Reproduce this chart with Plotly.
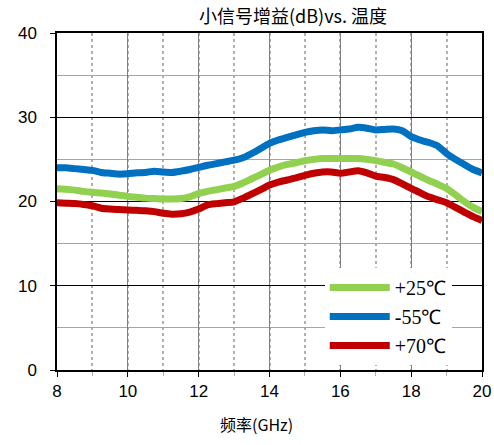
import plotly.graph_objects as go

freq_ghz = [8.0 + 0.25 * i for i in range(49)]

gain_m55 = [24.0, 24.0, 23.9, 23.8, 23.7, 23.45, 23.35, 23.25, 23.3, 23.4, 23.45, 23.6,
            23.5, 23.45, 23.6, 23.8, 24.05, 24.3, 24.5, 24.7, 24.9, 25.2, 25.7, 26.3,
            26.9, 27.3, 27.6, 27.9, 28.2, 28.4, 28.5, 28.4, 28.5, 28.6, 28.8, 28.7,
            28.5, 28.55, 28.6, 28.4, 27.7, 27.3, 27.0, 26.6, 25.7, 25.0, 24.4, 23.8, 23.4]

gain_p25 = [21.5, 21.45, 21.35, 21.2, 21.1, 21.0, 20.9, 20.75, 20.6, 20.5, 20.4, 20.35,
            20.3, 20.3, 20.35, 20.55, 20.95, 21.2, 21.4, 21.6, 21.8, 22.2, 22.7, 23.2,
            23.7, 24.1, 24.4, 24.6, 24.85, 25.0, 25.1, 25.1, 25.1, 25.1, 25.1, 25.0,
            24.85, 24.65, 24.45, 24.0, 23.5, 23.0, 22.5, 22.05, 21.55, 20.8, 20.0, 19.3, 18.8]

gain_p70 = [19.85, 19.8, 19.75, 19.65, 19.5, 19.2, 19.1, 19.05, 19.0, 18.95, 18.9, 18.8,
            18.6, 18.5, 18.55, 18.75, 19.1, 19.6, 19.75, 19.85, 19.95, 20.4, 20.9, 21.4,
            21.95, 22.3, 22.55, 22.8, 23.1, 23.35, 23.5, 23.5, 23.35, 23.5, 23.65, 23.4,
            23.0, 22.85, 22.6, 22.1, 21.55, 21.05, 20.55, 20.2, 19.85, 19.3, 18.75, 18.2, 17.75]

series_names = ["+25℃", "-55℃", "+70℃"]
series_colors = ["#92D050", "#0070C0", "#C00000"]
series_values = [gain_p25, gain_m55, gain_p70]

x_ticks = [8, 10, 12, 14, 16, 18, 20]
y_ticks = [0, 10, 20, 30, 40]

title_text = "小信号增益(dB)vs. 温度"
x_title = "频率(GHz)"

fig = go.Figure()
for name, color, vals in zip(series_names, series_colors, series_values):
    fig.add_trace(go.Scatter(
        x=freq_ghz, y=vals, mode="lines", name=name,
        line=dict(color=color, width=7, shape="spline", smoothing=0.6),
    ))

fig.update_layout(
    width=494, height=445,
    margin=dict(l=57, r=12, t=33, b=75, autoexpand=False),
    paper_bgcolor="white", plot_bgcolor="white",
    font=dict(family="Liberation Sans, Arial, sans-serif", size=17, color="black"),
    showlegend=True,
    legend=dict(
        x=0.63, y=0.015, xanchor="left", yanchor="bottom",
        bgcolor="white", borderwidth=0,
        font=dict(family="Liberation Serif, Times New Roman, serif", size=20, color="black"),
        itemwidth=60, tracegroupgap=4,
    ),
    annotations=[
        dict(text=title_text, xref="paper", yref="paper", x=0.555, y=1.0,
             xanchor="center", yanchor="bottom", yshift=3, showarrow=False,
             font=dict(family="Noto Sans CJK SC, sans-serif", size=18, color="black")),
        dict(text=x_title, xref="paper", yref="paper", x=0.47, y=0, yshift=-40,
             xanchor="center", yanchor="top", showarrow=False,
             font=dict(family="Noto Sans CJK SC, sans-serif", size=16, color="black")),
    ],
)

fig.update_xaxes(
    range=[8, 20], tickvals=x_ticks, ticktext=[str(v) for v in x_ticks],
    showline=True, linecolor="black", linewidth=1.5, mirror=True,
    showgrid=True, gridcolor="#7f7f7f", gridwidth=1,
    ticks="outside", ticklen=5, tickcolor="black",
    minor=dict(dtick=1, showgrid=True, griddash="dot", gridcolor="#b0b0b0", gridwidth=1.5,
               ticks="outside", ticklen=4, tickcolor="#b0b0b0"),
    zeroline=False, fixedrange=True, automargin=False,
)
fig.update_yaxes(
    range=[0, 40], tickvals=y_ticks, ticktext=[str(v) for v in y_ticks],
    showline=True, linecolor="black", linewidth=1.5, mirror=True,
    showgrid=True, gridcolor="#000000", gridwidth=1,
    ticks="outside", ticklen=5, tickcolor="black", ticklabelstandoff=10,
    minor=dict(dtick=5, showgrid=True, gridcolor="#a6a6a6", gridwidth=1),
    zeroline=False, fixedrange=True, automargin=False,
)

# remove the browser's default 8px body margin so the figure fills the window exactly
fig.write_html(
    "out.html",
    config={"displayModeBar": False},
    post_script="document.body.style.margin='0';document.body.style.overflow='hidden';",
)
